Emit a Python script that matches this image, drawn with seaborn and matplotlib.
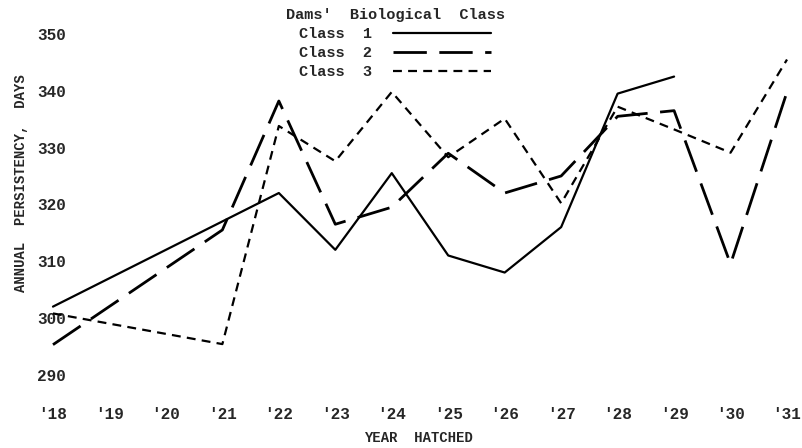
import numpy as np
import pandas as pd
import matplotlib
matplotlib.use("Agg")
import matplotlib.pyplot as plt
import seaborn as sns

# Years hatched (19xx) and annual persistency (days) per dams' class
years = [18, 19, 20, 21, 22, 23, 24, 25, 26, 27, 28, 29, 30, 31]
year_labels = ["'18", "'19", "'20", "'21", "'22", "'23", "'24",
               "'25", "'26", "'27", "'28", "'29", "'30", "'31"]
class_1 = [302, None, None, None, 322, 312, 325.5, 311, 308, 316, 339.5, 342.5, None, None]
class_2 = [295.3, None, None, 315.5, 338.2, 316.5, 319.5, 329, 322, 325, 335.5, 336.5, 309.5, 339.8]
class_3 = [300.8, None, None, 295.4, 333.8, 327.6, 339.8, 328.3, 335.1, 320.2, 337.2, 333.2, 329.1, 345.5]
y_ticks = [290, 300, 310, 320, 330, 340, 350]

rows = []
for name, vals in [("Class  1", class_1), ("Class  2", class_2), ("Class  3", class_3)]:
    for yr, v in zip(years, vals):
        if v is not None:
            rows.append({"year": yr, "days": v, "cls": name})
df = pd.DataFrame(rows)

sns.set_style("white")
plt.rcParams["font.family"] = ["Liberation Mono", "DejaVu Sans Mono"]
plt.rcParams["font.weight"] = "bold"

fig = plt.figure(figsize=(8.02, 4.48), dpi=100)
# axes box in pixels: left 30, right 800, top 20, bottom 390
ax = fig.add_axes([30 / 802, 58 / 448, 770 / 802, 370 / 448])

sns.lineplot(
    data=df, x="year", y="days", style="cls", color="black",
    dashes={"Class  1": "", "Class  2": (12, 4.5), "Class  3": (4, 2.8)},
    ax=ax, legend=False,
)
widths = [1.6, 2.0, 1.6]
for line, lw in zip(ax.get_lines(), widths):
    line.set_linewidth(lw)

ax.set_xlim(17.593, 31.230)
ax.set_ylim(287.32, 352.46)
ax.set_xticks(years)
ax.set_xticklabels(year_labels)
ax.set_yticks(y_ticks)
ax.tick_params(axis="x", length=0, pad=12, labelsize=11.5)
ax.tick_params(axis="y", length=0, pad=-26, labelsize=11.5)
for s in ax.spines.values():
    s.set_visible(False)

ax.set_xlabel("YEAR  HATCHED", fontsize=10, fontweight="bold")
ax.set_ylabel("ANNUAL  PERSISTENCY,  DAYS", fontsize=10, fontweight="bold")
ax.yaxis.set_label_coords(-0.002, 0.56)
ax.xaxis.set_label_coords(0.505, -0.112)

handles = ax.get_lines()
leg = ax.legend(
    handles, ["Class  1", "Class  2", "Class  3"],
    title="Dams'  Biological  Class", frameon=False, markerfirst=False,
    handlelength=6.4, handletextpad=1.4, labelspacing=0.32,
    fontsize=11, title_fontsize=11,
    loc="upper center", bbox_to_anchor=(395 / 802, 1.005),
    bbox_transform=fig.transFigure, borderpad=0.2,
)
leg.get_title().set_fontweight("bold")

fig.savefig("out.png", dpi=100)
